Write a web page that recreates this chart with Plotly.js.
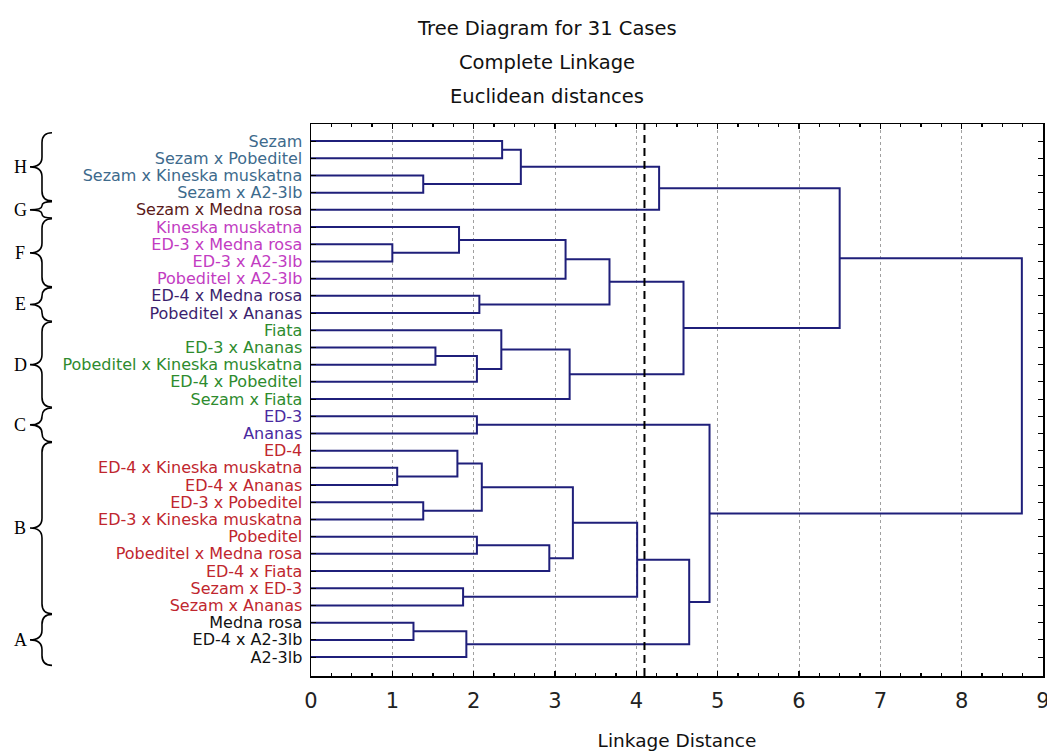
<!DOCTYPE html>
<html>
<head>
<meta charset="utf-8">
<script src="https://cdn.plot.ly/plotly-3.0.1.min.js"></script>
<style>
  html, body { margin: 0; padding: 0; background: #ffffff; }
  #chart { width: 1047px; height: 751px; }
</style>
</head>
<body>
<div id="chart"></div>
<script>
// Cases, listed top to bottom in dendrogram leaf order
const LEAVES = [
  'Sezam', 'Sezam x Pobeditel', 'Sezam x Kineska muskatna', 'Sezam x A2-3lb',
  'Sezam x Medna rosa',
  'Kineska muskatna', 'ED-3 x Medna rosa', 'ED-3 x A2-3lb', 'Pobeditel x A2-3lb',
  'ED-4 x Medna rosa', 'Pobeditel x Ananas',
  'Fiata', 'ED-3 x Ananas', 'Pobeditel x Kineska muskatna', 'ED-4 x Pobeditel', 'Sezam x Fiata',
  'ED-3', 'Ananas',
  'ED-4', 'ED-4 x Kineska muskatna', 'ED-4 x Ananas', 'ED-3 x Pobeditel', 'ED-3 x Kineska muskatna',
  'Pobeditel', 'Pobeditel x Medna rosa', 'ED-4 x Fiata', 'Sezam x ED-3', 'Sezam x Ananas',
  'Medna rosa', 'ED-4 x A2-3lb', 'A2-3lb'
];

// Cluster groups: letter, first and last leaf row (1-based), label colour
const GROUP_NAMES  = ['H', 'G', 'F', 'E', 'D', 'C', 'B', 'A'];
const GROUP_FIRST  = [1, 5, 6, 10, 12, 17, 19, 29];
const GROUP_LAST   = [4, 5, 9, 11, 16, 18, 28, 31];
const GROUP_COLORS = ['#3d6a8c', '#5a1a1a', '#c23cc2', '#3c1f6e', '#2e8b2e', '#4a2aa0', '#c0262e', '#111111'];

// Agglomeration steps (hclust convention: negative = leaf row, positive = earlier step)
const MERGE_A = [-1, -3, 1, 3, -7, -6, 6, -10, 7, -13, 10, -12, 12, 9, 4,
                 -17, -20, -19, -22, 18, -24, 21, 20, -27, 23, -29, 26, 25, 16, 15];
const MERGE_B = [-2, -4, 2, -5, -8, 5, -9, -11, 8, -14, -15, 11, -16, 13, 14,
                 -18, -21, 17, -23, 19, -25, -26, 22, -28, 24, -30, -31, 27, 28, 29];
const MERGE_HEIGHT = [2.35, 1.38, 2.58, 4.28, 1.00, 1.82, 3.13, 2.07, 3.67, 1.53, 2.04, 2.34, 3.18, 4.58, 6.50,
                      2.04, 1.06, 1.80, 1.38, 2.10, 2.04, 2.93, 3.22, 1.87, 4.01, 1.26, 1.91, 4.65, 4.90, 8.74];

// Cut level marked with the dashed line
const CUT_DISTANCE = 4.1;

const X_TICKS = [0, 1, 2, 3, 4, 5, 6, 7, 8, 9];
const TITLE_LINES = ['Tree Diagram for 31 Cases', 'Complete Linkage', 'Euclidean distances'];
const X_TITLE = 'Linkage Distance';

// ---- build the dendrogram segments ----
const nodeY = [], nodeX = [];
function pos(ref) {
  if (ref < 0) return { y: -ref, x: 0 };
  return { y: nodeY[ref - 1], x: nodeX[ref - 1] };
}
const segX = [], segY = [];
for (let i = 0; i < MERGE_HEIGHT.length; i++) {
  const a = pos(MERGE_A[i]), b = pos(MERGE_B[i]), h = MERGE_HEIGHT[i];
  segX.push(a.x, h, h, b.x, null);
  segY.push(a.y, a.y, b.y, b.y, null);
  nodeY.push((a.y + b.y) / 2);
  nodeX.push(h);
}

// leaf label colours from their group
const leafColor = LEAVES.map((_, i) => {
  const row = i + 1;
  const g = GROUP_FIRST.findIndex((f, k) => row >= f && row <= GROUP_LAST[k]);
  return GROUP_COLORS[g];
});
const tickText = LEAVES.map((t, i) => '<span style="color:' + leafColor[i] + '">' + t + '</span>');
const tickVals = LEAVES.map((_, i) => i + 1);

const Y_RANGE = [32.1, 0.01];
const toPaperY = v => (Y_RANGE[0] - v) / (Y_RANGE[0] - Y_RANGE[1]);

// curly braces beside the leaf labels, one per group
const BRACE_TIP = -0.3538, BRACE_SPINE = -0.3675, BRACE_CUSP = -0.3839;
const shapes = GROUP_NAMES.map((_, k) => {
  const y0 = toPaperY(GROUP_FIRST[k] - 0.48);
  const y1 = toPaperY(GROUP_LAST[k] + 0.48);
  const ym = (y0 + y1) / 2;
  const span = Math.abs(y0 - y1);
  const r = Math.min(0.018, span / 4);
  const d = 'M' + BRACE_TIP + ',' + y0 +
    ' Q' + BRACE_SPINE + ',' + y0 + ' ' + BRACE_SPINE + ',' + (y0 - r) +
    ' L' + BRACE_SPINE + ',' + (ym + r) +
    ' Q' + BRACE_SPINE + ',' + ym + ' ' + BRACE_CUSP + ',' + ym +
    ' Q' + BRACE_SPINE + ',' + ym + ' ' + BRACE_SPINE + ',' + (ym - r) +
    ' L' + BRACE_SPINE + ',' + (y1 + r) +
    ' Q' + BRACE_SPINE + ',' + y1 + ' ' + BRACE_TIP + ',' + y1;
  return { type: 'path', xref: 'paper', yref: 'paper', path: d,
           line: { color: '#000000', width: 1.6 } };
});
shapes.push({
  type: 'line', xref: 'x', yref: 'paper', x0: CUT_DISTANCE, x1: CUT_DISTANCE, y0: 0, y1: 1,
  line: { color: '#000000', width: 2, dash: '8px,5px' }
});

const annotations = GROUP_NAMES.map((g, k) => ({
  text: g, xref: 'paper', yref: 'y', x: -0.3975, y: (GROUP_FIRST[k] + GROUP_LAST[k]) / 2,
  showarrow: false, xanchor: 'center', yanchor: 'middle',
  font: { family: 'Liberation Serif, serif', size: 18, color: '#000000' }
}));
const TITLE_Y = [1.1739, 1.1123, 1.0507];
TITLE_LINES.forEach((t, i) => annotations.push({
  text: t, xref: 'paper', yref: 'paper', x: 0.3224, y: TITLE_Y[i],
  showarrow: false, xanchor: 'center', yanchor: 'middle',
  font: { family: 'DejaVu Sans, sans-serif', size: 19.5, color: '#111111' }
}));

const trace = {
  type: 'scatter', mode: 'lines', x: segX, y: segY,
  line: { color: '#1f1f7a', width: 2 }, hoverinfo: 'skip', showlegend: false
};

const layout = {
  width: 1047, height: 751,
  margin: { l: 311, r: 4, t: 124, b: 75 },
  paper_bgcolor: '#ffffff', plot_bgcolor: '#ffffff',
  font: { family: 'DejaVu Sans, sans-serif', color: '#111111' },
  xaxis: {
    range: [0, 9], tickvals: X_TICKS, ticktext: X_TICKS.map(String),
    ticks: 'inside', ticklen: 5, tickcolor: '#000000', tickwidth: 1.2,
    minor: { dtick: 0.25, ticks: 'inside', ticklen: 3, tickcolor: '#000000', showgrid: false },
    showline: true, mirror: 'ticks', linecolor: '#000000', linewidth: 1.5,
    showgrid: true, gridcolor: '#a0a0a0', griddash: 'dot', gridwidth: 1,
    zeroline: false, ticklabelstandoff: 5, ticklabeloverflow: 'allow',
    tickfont: { family: 'DejaVu Sans, sans-serif', size: 21, color: '#222222' },
    title: { text: X_TITLE, standoff: 22, font: { family: 'DejaVu Sans, sans-serif', size: 18.5, color: '#111111' } }
  },
  yaxis: {
    range: Y_RANGE, tickvals: tickVals, ticktext: tickText,
    ticks: 'inside', ticklen: 5, tickcolor: '#000000',
    showline: true, mirror: 'ticks', linecolor: '#000000', linewidth: 1.5,
    showgrid: false, zeroline: false, ticklabelstandoff: 4,
    tickfont: { family: 'DejaVu Sans, sans-serif', size: 16 }
  },
  shapes: shapes,
  annotations: annotations
};

Plotly.newPlot('chart', [trace], layout, { staticPlot: true, displayModeBar: false });
</script>
</body>
</html>
